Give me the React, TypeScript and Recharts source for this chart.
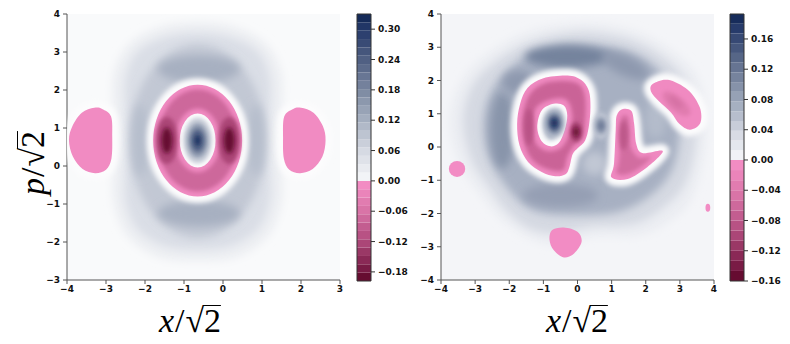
import React from 'react'
import { ScatterChart, Scatter, XAxis, YAxis, CartesianGrid, ComposedChart, ReferenceArea } from 'recharts'

type Blob = {
  x: number
  y: number
  v: number
  rx?: number
  ry?: number
  rot?: number
  irx?: number
  iry?: number
  pts?: number[][]
  hole?: number[][]
}

const ell = (x: number, y: number, rx: number, ry: number, v: number, rot = 0): Blob => ({ x, y, rx, ry, v, rot })
const ring = (x: number, y: number, rx: number, ry: number, irx: number, iry: number, v: number): Blob => ({
  x, y, rx, ry, irx, iry, v,
})
const poly = (v: number, pts: number[][], hole?: number[][]): Blob => ({ x: pts[0][0], y: pts[0][1], v, pts, hole })

// ---- axes / colorbar values
const leftXTicks = [-4, -3, -2, -1, 0, 1, 2, 3]
const leftYTicks = [-3, -2, -1, 0, 1, 2, 3, 4]
const rightTicks = [-4, -3, -2, -1, 0, 1, 2, 3, 4]

const leftCbTicks = [-0.18, -0.12, -0.06, 0, 0.06, 0.12, 0.18, 0.24, 0.3]
const rightCbTicks = [-0.16, -0.12, -0.08, -0.04, 0, 0.04, 0.08, 0.12, 0.16]

const leftLevels = [
  -0.198, -0.1815, -0.165, -0.1485, -0.132, -0.1155, -0.099, -0.0825, -0.066, -0.0495, -0.033, -0.0165, 0,
  0.0165, 0.033, 0.0495, 0.066, 0.0825, 0.099, 0.1155, 0.132, 0.1485, 0.165, 0.1815, 0.198, 0.2145, 0.231,
  0.2475, 0.264, 0.2805, 0.297, 0.3135, 0.33,
]
const rightLevels = [
  -0.16, -0.1467, -0.1333, -0.12, -0.1067, -0.0933, -0.08, -0.0667, -0.0533, -0.04, -0.0267, -0.0133, 0,
  0.0129, 0.0257, 0.0386, 0.0515, 0.0643, 0.0772, 0.0901, 0.1029, 0.1158, 0.1287, 0.1415, 0.1544, 0.1673,
  0.1801, 0.193,
]

// ---- left panel features (x, p in units of sqrt2)
const leftField: Blob[] = [
  poly(0.02, [[-0.65, 3.78], [0.3, 3.66], [1.1, 3.22], [1.5, 2.45], [1.52, 1.5], [1.45, 0.7], [1.52, -0.15],
    [1.5, -1.0], [1.15, -1.85], [0.35, -2.4], [-0.65, -2.5], [-1.65, -2.4], [-2.45, -1.85], [-2.8, -1.0],
    [-2.82, -0.15], [-2.75, 0.7], [-2.82, 1.5], [-2.8, 2.45], [-2.4, 3.22], [-1.6, 3.66]]),
  poly(0.05, [[-0.65, 3.5], [0.2, 3.38], [0.9, 3.0], [1.2, 2.3], [1.2, 1.4], [1.15, 0.7], [1.2, -0.1],
    [1.2, -0.9], [0.9, -1.65], [0.2, -2.1], [-0.65, -2.2], [-1.5, -2.1], [-2.2, -1.65], [-2.5, -0.9],
    [-2.5, -0.1], [-2.45, 0.7], [-2.5, 1.4], [-2.5, 2.3], [-2.2, 3.0], [-1.5, 3.38]]),
  ell(-0.65, 0.66, 1.75, 2.55, 0.085),
  ell(-0.62, 2.55, 1.05, 0.36, 0.12),
  ell(-0.62, -1.25, 1.05, 0.34, 0.12),
  ell(-2.12, 0.68, 0.2, 0.95, 0.1),
  ell(0.85, 0.68, 0.2, 0.95, 0.1),
]

const leftNeg: Blob[] = [
  ring(-0.65, 0.67, 1.14, 1.47, 0.46, 0.71, -0.012),
  poly(-0.01, [[-2.87, 1.3], [-3.1, 1.5], [-3.3, 1.53], [-3.62, 1.4], [-3.86, 1.05], [-3.95, 0.68], [-3.85, 0.25],
    [-3.6, -0.08], [-3.28, -0.19], [-3.0, -0.1], [-2.86, 0.2], [-2.84, 0.75]]),
  poly(-0.01, [[1.57, 1.3], [1.8, 1.5], [2.0, 1.53], [2.32, 1.4], [2.56, 1.05], [2.63, 0.68], [2.55, 0.25],
    [2.3, -0.08], [1.98, -0.19], [1.7, -0.1], [1.56, 0.2], [1.54, 0.75]]),
]

const leftNegShade: Blob[] = [
  ring(-0.65, 0.67, 1.02, 1.34, 0.58, 0.84, -0.075),
  ell(-1.44, 0.67, 0.28, 0.62, -0.125),
  ell(0.16, 0.67, 0.28, 0.62, -0.125),
  ell(-1.44, 0.67, 0.14, 0.34, -0.19),
  ell(0.16, 0.67, 0.14, 0.34, -0.19),
]

const leftPos: Blob[] = [
  ell(-0.65, 0.67, 0.36, 0.6, 0.07),
  ell(-0.65, 0.67, 0.27, 0.46, 0.15),
  ell(-0.65, 0.67, 0.18, 0.31, 0.23),
  ell(-0.65, 0.67, 0.08, 0.15, 0.31),
]

// ---- right panel features
const rightField: Blob[] = [
  poly(0.012, [[0.0, 3.72], [1.3, 3.6], [2.4, 3.15], [3.4, 2.3], [3.75, 1.2], [3.75, 0.0], [3.45, -1.3],
    [3.0, -2.0], [1.9, -2.65], [0.5, -2.7], [-0.5, -2.95], [-1.3, -2.8], [-2.2, -2.2], [-2.8, -1.5],
    [-3.45, -0.5], [-3.75, 0.7], [-3.5, 1.8], [-2.85, 2.65], [-1.5, 3.45]]),
  poly(0.035, [[0.0, 3.45], [1.3, 3.3], [2.3, 2.85], [3.1, 2.1], [3.45, 1.1], [3.45, 0.0], [3.15, -1.1],
    [2.6, -1.75], [1.7, -2.3], [0.4, -2.4], [-0.6, -2.6], [-1.4, -2.45], [-2.1, -1.9], [-2.6, -1.2],
    [-3.1, -0.4], [-3.35, 0.7], [-3.15, 1.7], [-2.55, 2.45], [-1.4, 3.15]]),
  poly(0.07, [[0.1, 3.1], [1.4, 2.9], [2.3, 2.4], [2.8, 1.6], [3.0, 0.6], [2.8, -0.6], [2.2, -1.4],
    [1.2, -1.95], [-0.2, -2.05], [-1.3, -1.9], [-2.0, -1.3], [-2.6, -0.3], [-2.75, 0.8], [-2.45, 1.8],
    [-1.7, 2.6], [-0.8, 3.0]]),
  ell(-0.3, 2.72, 1.25, 0.33, 0.11),
  ell(1.4, 2.45, 0.75, 0.3, 0.09, -25),
  ell(-2.2, 0.5, 0.35, 1.15, 0.095),
  ell(-1.75, 1.95, 0.45, 0.35, 0.09),
  ell(-0.5, -1.45, 1.1, 0.35, 0.085),
  ell(2.3, 0.85, 0.3, 0.6, 0.06),
  ell(0.5, -0.5, 0.35, 0.35, 0.05),
]

const rightNeg: Blob[] = [
  poly(-0.012,
    [[-0.29, 2.15], [0.1, 2.02], [0.33, 1.7], [0.38, 1.2], [0.33, 0.6], [0.22, 0.19], [0.02, -0.02],
      [-0.14, -0.21], [-0.24, -0.61], [-0.35, -0.82], [-0.65, -0.88], [-1.05, -0.75], [-1.45, -0.45],
      [-1.7, 0.05], [-1.77, 0.69], [-1.68, 1.3], [-1.46, 1.78], [-1.0, 2.07]],
    [[-0.7, 1.3], [-0.4, 1.25], [-0.3, 0.95], [-0.38, 0.5], [-0.55, 0.12], [-0.8, 0.02], [-1.05, 0.17],
      [-1.18, 0.6], [-1.05, 1.1]]),
  poly(-0.012, [[1.33, 1.14], [1.58, 1.08], [1.66, 0.7], [1.72, 0.1], [1.9, -0.18], [2.5, -0.12], [2.05, -0.6],
    [1.47, -0.96], [1.0, -0.92], [1.07, -0.5], [1.12, 0.5], [1.15, 0.95]]),
  poly(-0.01, [[2.21, 1.9], [2.65, 2.02], [3.23, 1.72], [3.58, 1.2], [3.6, 0.72], [3.3, 0.52], [2.99, 0.69],
    [2.74, 1.04], [2.38, 1.38], [2.15, 1.68]]),
]

const rightNegPlain: Blob[] = [
  ell(-3.53, -0.66, 0.24, 0.24, -0.006),
  ell(3.82, -1.83, 0.07, 0.12, -0.006),
  poly(-0.006, [[-0.75, -2.5], [-0.4, -2.42], [0.0, -2.55], [0.12, -2.85], [-0.1, -3.2], [-0.4, -3.32],
    [-0.7, -3.1], [-0.82, -2.8]]),
]

const rightNegShade: Blob[] = [
  poly(-0.065,
    [[-0.3, 1.98], [0.05, 1.88], [0.2, 1.6], [0.24, 1.2], [0.2, 0.6], [0.1, 0.25], [-0.1, 0.05], [-0.3, -0.3],
      [-0.4, -0.68], [-0.65, -0.72], [-1.0, -0.62], [-1.35, -0.35], [-1.55, 0.1], [-1.62, 0.69], [-1.54, 1.25],
      [-1.35, 1.65], [-0.95, 1.92]],
    [[-0.7, 1.45], [-0.3, 1.4], [-0.15, 0.95], [-0.22, 0.45], [-0.45, 0.0], [-0.85, -0.13], [-1.2, 0.08],
      [-1.33, 0.6], [-1.2, 1.2]]),
  ell(-1.42, 0.6, 0.14, 0.55, -0.085),
  ell(-0.04, 0.45, 0.17, 0.3, -0.11),
  ell(-0.04, 0.45, 0.08, 0.14, -0.155),
  poly(-0.055, [[1.35, 0.95], [1.48, 0.9], [1.52, 0.5], [1.56, 0.0], [1.8, -0.32], [2.15, -0.3], [1.85, -0.6],
    [1.45, -0.82], [1.15, -0.78], [1.22, -0.4], [1.26, 0.4], [1.28, 0.85]]),
  ell(1.35, 0.35, 0.13, 0.45, -0.08),
  ell(2.9, 1.3, 0.5, 0.22, -0.035, -40),
  ell(2.88, 1.35, 0.25, 0.1, -0.05, -40),
]

const rightPos: Blob[] = [
  ell(-0.68, 0.72, 0.32, 0.45, 0.06),
  ell(-0.68, 0.72, 0.22, 0.32, 0.11),
  ell(-0.68, 0.72, 0.13, 0.2, 0.16),
  ell(-0.68, 0.72, 0.06, 0.09, 0.19),
  ell(0.69, 0.64, 0.25, 0.4, 0.05),
  ell(0.69, 0.64, 0.15, 0.26, 0.09),
  ell(0.69, 0.64, 0.08, 0.13, 0.12),
]

// ---- colour map
const POS_STOPS: [number, string][] = [
  [0, '#f7f8fa'], [0.18, '#d5d9e2'], [0.36, '#a8b1c2'], [0.55, '#7a87a0'], [0.73, '#4f5f82'], [0.91, '#25396a'], [1, '#0f2552'],
]
const NEG_STOPS: [number, string][] = [
  [0, '#f690c8'], [0.3, '#d873a6'], [0.6, '#b04a7c'], [0.9, '#741740'], [1, '#5c0526'],
]

const hex = (c: string) => [1, 3, 5].map((i) => parseInt(c.slice(i, i + 2), 16))
function interp(stops: [number, string][], t: number) {
  t = Math.max(0, Math.min(1, t))
  for (let i = 1; i < stops.length; i++) {
    if (t <= stops[i][0]) {
      const [t0, c0] = stops[i - 1]
      const [t1, c1] = stops[i]
      const f = (t - t0) / (t1 - t0)
      const a = hex(c0)
      const b = hex(c1)
      return `rgb(${a.map((q, k) => Math.round(q + (b[k] - q) * f)).join(',')})`
    }
  }
  return stops[stops.length - 1][1]
}
const cmap = (v: number, vmin: number, vmax: number) => (v >= 0 ? interp(POS_STOPS, v / vmax) : interp(NEG_STOPS, v / vmin))

// ---- drawing helpers
function smooth(P: number[][]) {
  const n = P.length
  let d = `M${P[0][0]},${P[0][1]}`
  for (let i = 0; i < n; i++) {
    const p0 = P[(i - 1 + n) % n]
    const p1 = P[i]
    const p2 = P[(i + 1) % n]
    const p3 = P[(i + 2) % n]
    const c1 = [p1[0] + (p2[0] - p0[0]) / 6, p1[1] + (p2[1] - p0[1]) / 6]
    const c2 = [p2[0] - (p3[0] - p1[0]) / 6, p2[1] - (p3[1] - p1[1]) / 6]
    d += ` C${c1[0]},${c1[1]} ${c2[0]},${c2[1]} ${p2[0]},${p2[1]}`
  }
  return d + ' Z'
}
const ellPath = (cx: number, cy: number, rx: number, ry: number) =>
  `M${cx - rx},${cy} a${rx},${ry} 0 1,0 ${2 * rx},0 a${rx},${ry} 0 1,0 ${-2 * rx},0 Z `

function makeShape(kx: number, ky: number, vmin: number, vmax: number, filter?: string, haloFilter?: string) {
  return (props: any) => {
    const { cx, cy, payload } = props
    if (cx == null || cy == null) return <g />
    const b = payload as Blob
    const toPx = (p: number[]) => [cx + (p[0] - b.x) * kx, cy - (p[1] - b.y) * ky]
    let d: string
    if (b.pts) {
      d = smooth(b.pts.map(toPx))
      if (b.hole) d += ' ' + smooth(b.hole.map(toPx))
    } else {
      d = ellPath(cx, cy, (b.rx || 0) * kx, (b.ry || 0) * ky)
      if (b.irx) d += ellPath(cx, cy, b.irx * kx, (b.iry || 0) * ky)
    }
    const tr = b.rot ? `rotate(${-b.rot} ${cx} ${cy})` : undefined
    return (
      <g transform={tr}>
        {haloFilter && <path d={d} fill="none" stroke="#fcfcfd" strokeWidth={13} filter={`url(#${haloFilter})`} />}
        <path d={d} fill={cmap(b.v, vmin, vmax)} fillRule="evenodd" filter={filter ? `url(#${filter})` : undefined} />
      </g>
    )
  }
}

const tickStyle = { fill: '#111', fontSize: 9, fontWeight: 700, fontFamily: 'DejaVu Sans' }
const fmtInt = (v: number) => String(v).replace('-', '\u2212')
const fmtCb = (v: number) => v.toFixed(2).replace('-', '\u2212')

function Filters({ id, w, h }: { id: string; w: number; h: number }) {
  const f = (name: string, sd: number) => (
    <filter id={name + id} filterUnits="userSpaceOnUse" x={0} y={0} width={w} height={h}>
      <feGaussianBlur stdDeviation={sd} />
    </filter>
  )
  return (
    <defs>
      {f('soft', 4)}
      {f('mid', 2)}
      {f('halo', 2.5)}
    </defs>
  )
}

type PanelProps = {
  id: string
  left: number
  width: number
  margin: { top: number; right: number; bottom: number; left: number }
  yWidth: number
  xDomain: number[]
  yDomain: number[]
  xTicks: number[]
  yTicks: number[]
  vmin: number
  vmax: number
  bg: string
  layers: { data: Blob[]; kind: 'field' | 'neg' | 'plain' | 'shade' | 'pos' }[]
}

function Panel(p: PanelProps) {
  const H = 344
  const plotW = p.width - p.margin.left - p.margin.right - p.yWidth
  const plotH = H - p.margin.top - p.margin.bottom - 20
  const kx = plotW / (p.xDomain[1] - p.xDomain[0])
  const ky = plotH / (p.yDomain[1] - p.yDomain[0])
  const shapes = {
    field: makeShape(kx, ky, p.vmin, p.vmax, 'soft' + p.id),
    neg: makeShape(kx, ky, p.vmin, p.vmax, undefined, 'halo' + p.id),
    plain: makeShape(kx, ky, p.vmin, p.vmax),
    shade: makeShape(kx, ky, p.vmin, p.vmax, 'mid' + p.id),
    pos: makeShape(kx, ky, p.vmin, p.vmax, 'mid' + p.id),
  }
  return (
    <div style={{ position: 'absolute', left: p.left, top: 0 }}>
      <ScatterChart width={p.width} height={H} margin={p.margin}>
        <Filters id={p.id} w={p.width} h={H} />
        <CartesianGrid fill={p.bg} horizontal={false} vertical={false} />
        {p.layers.map((l, i) => (
          <Scatter key={i} data={l.data} shape={shapes[l.kind]} isAnimationActive={false} />
        ))}
        <XAxis
          type="number"
          dataKey="x"
          domain={p.xDomain}
          ticks={p.xTicks}
          allowDataOverflow
          height={20}
          tick={tickStyle}
          tickFormatter={fmtInt}
          tickSize={4}
          tickMargin={2}
          stroke="#555"
        />
        <YAxis
          type="number"
          dataKey="y"
          domain={p.yDomain}
          ticks={p.yTicks}
          allowDataOverflow
          width={p.yWidth}
          tick={tickStyle}
          tickFormatter={fmtInt}
          tickSize={4}
          tickMargin={3}
          stroke="#555"
        />
        <XAxis xAxisId="top" orientation="top" type="number" domain={p.xDomain} height={0} tick={false} tickLine={false} stroke="#555" />
        <YAxis yAxisId="right" orientation="right" type="number" domain={p.yDomain} width={0} tick={false} tickLine={false} stroke="#555" />
      </ScatterChart>
    </div>
  )
}

function ColorBar({ left, width, yWidth, levels, ticks, vmin, vmax }: {
  left: number; width: number; yWidth: number; levels: number[]; ticks: number[]; vmin: number; vmax: number
}) {
  const bands = levels.slice(1).map((hi, i) => ({ lo: levels[i], hi }))
  return (
    <div style={{ position: 'absolute', left, top: 0 }}>
      <ComposedChart width={width} height={344} data={[{ n: 'c' }]} margin={{ top: 14, right: 0, bottom: 63, left: 12 }}>
        <XAxis dataKey="n" hide />
        <YAxis
          orientation="right"
          type="number"
          domain={[vmin, vmax]}
          ticks={ticks}
          allowDataOverflow
          width={yWidth}
          axisLine={false}
          tick={tickStyle}
          tickFormatter={fmtCb}
          tickSize={4}
          tickMargin={3}
          stroke="#333"
        />
        {bands.map((b, i) => (
          <ReferenceArea key={i} y1={b.lo} y2={b.hi} fill={cmap((b.lo + b.hi) / 2, vmin, vmax)} fillOpacity={1} stroke="none" ifOverflow="visible" />
        ))}
        <ReferenceArea y1={vmin} y2={vmax} fill="none" stroke="#333" strokeWidth={1} ifOverflow="visible" />
      </ComposedChart>
    </div>
  )
}

const mathFont: React.CSSProperties = {
  fontFamily: '"Liberation Serif", "DejaVu Serif", serif',
  fontSize: 34,
  color: '#000',
  lineHeight: 1,
  whiteSpace: 'nowrap',
}

function MathLabel({ v }: { v: string }) {
  return (
    <span style={mathFont}>
      <i>{v}</i>
      <span style={{ margin: '0 1px' }}>/</span>
      <span>{'\u221A'}</span>
      <span style={{ position: 'relative', display: 'inline-block' }}>
        2
        <span style={{ position: 'absolute', left: -1, right: 0, top: 1, borderTop: '1.6px solid #000' }} />
      </span>
    </span>
  )
}

export default function App() {
  return (
    <div style={{ position: 'absolute', left: 0, top: 0, width: 790, height: 344, background: '#fff', overflow: 'hidden' }}>
      <Panel
        id="L"
        left={0}
        width={345}
        margin={{ top: 14, right: 5, bottom: 44, left: 10 }}
        yWidth={57}
        xDomain={[-4, 3]}
        yDomain={[-3, 4]}
        xTicks={leftXTicks}
        yTicks={leftYTicks}
        vmin={-0.198}
        vmax={0.33}
        bg="#f9fafb"
        layers={[
          { data: leftField, kind: 'field' },
          { data: leftNeg, kind: 'neg' },
          { data: leftNegShade, kind: 'shade' },
          { data: leftPos, kind: 'pos' },
        ]}
      />
      <ColorBar left={345} width={75} yWidth={49} levels={leftLevels} ticks={leftCbTicks} vmin={-0.198} vmax={0.33} />
      <Panel
        id="R"
        left={380}
        width={340}
        margin={{ top: 14, right: 6, bottom: 44, left: 10 }}
        yWidth={51}
        xDomain={[-4, 4]}
        yDomain={[-4, 4]}
        xTicks={rightTicks}
        yTicks={rightTicks}
        vmin={-0.16}
        vmax={0.193}
        bg="#f4f5f8"
        layers={[
          { data: rightField, kind: 'field' },
          { data: rightNeg, kind: 'neg' },
          { data: rightNegPlain, kind: 'plain' },
          { data: rightNegShade, kind: 'shade' },
          { data: rightPos, kind: 'pos' },
        ]}
      />
      <ColorBar left={718} width={72} yWidth={46} levels={rightLevels} ticks={rightCbTicks} vmin={-0.16} vmax={0.193} />
      <div style={{ position: 'absolute', left: 190, top: 321, transform: 'translate(-50%, -50%)' }}>
        <MathLabel v="x" />
      </div>
      <div style={{ position: 'absolute', left: 577, top: 321, transform: 'translate(-50%, -50%)' }}>
        <MathLabel v="x" />
      </div>
      <div style={{ position: 'absolute', left: 33, top: 163, transform: 'translate(-50%, -50%) rotate(-90deg)' }}>
        <MathLabel v="p" />
      </div>
    </div>
  )
}
